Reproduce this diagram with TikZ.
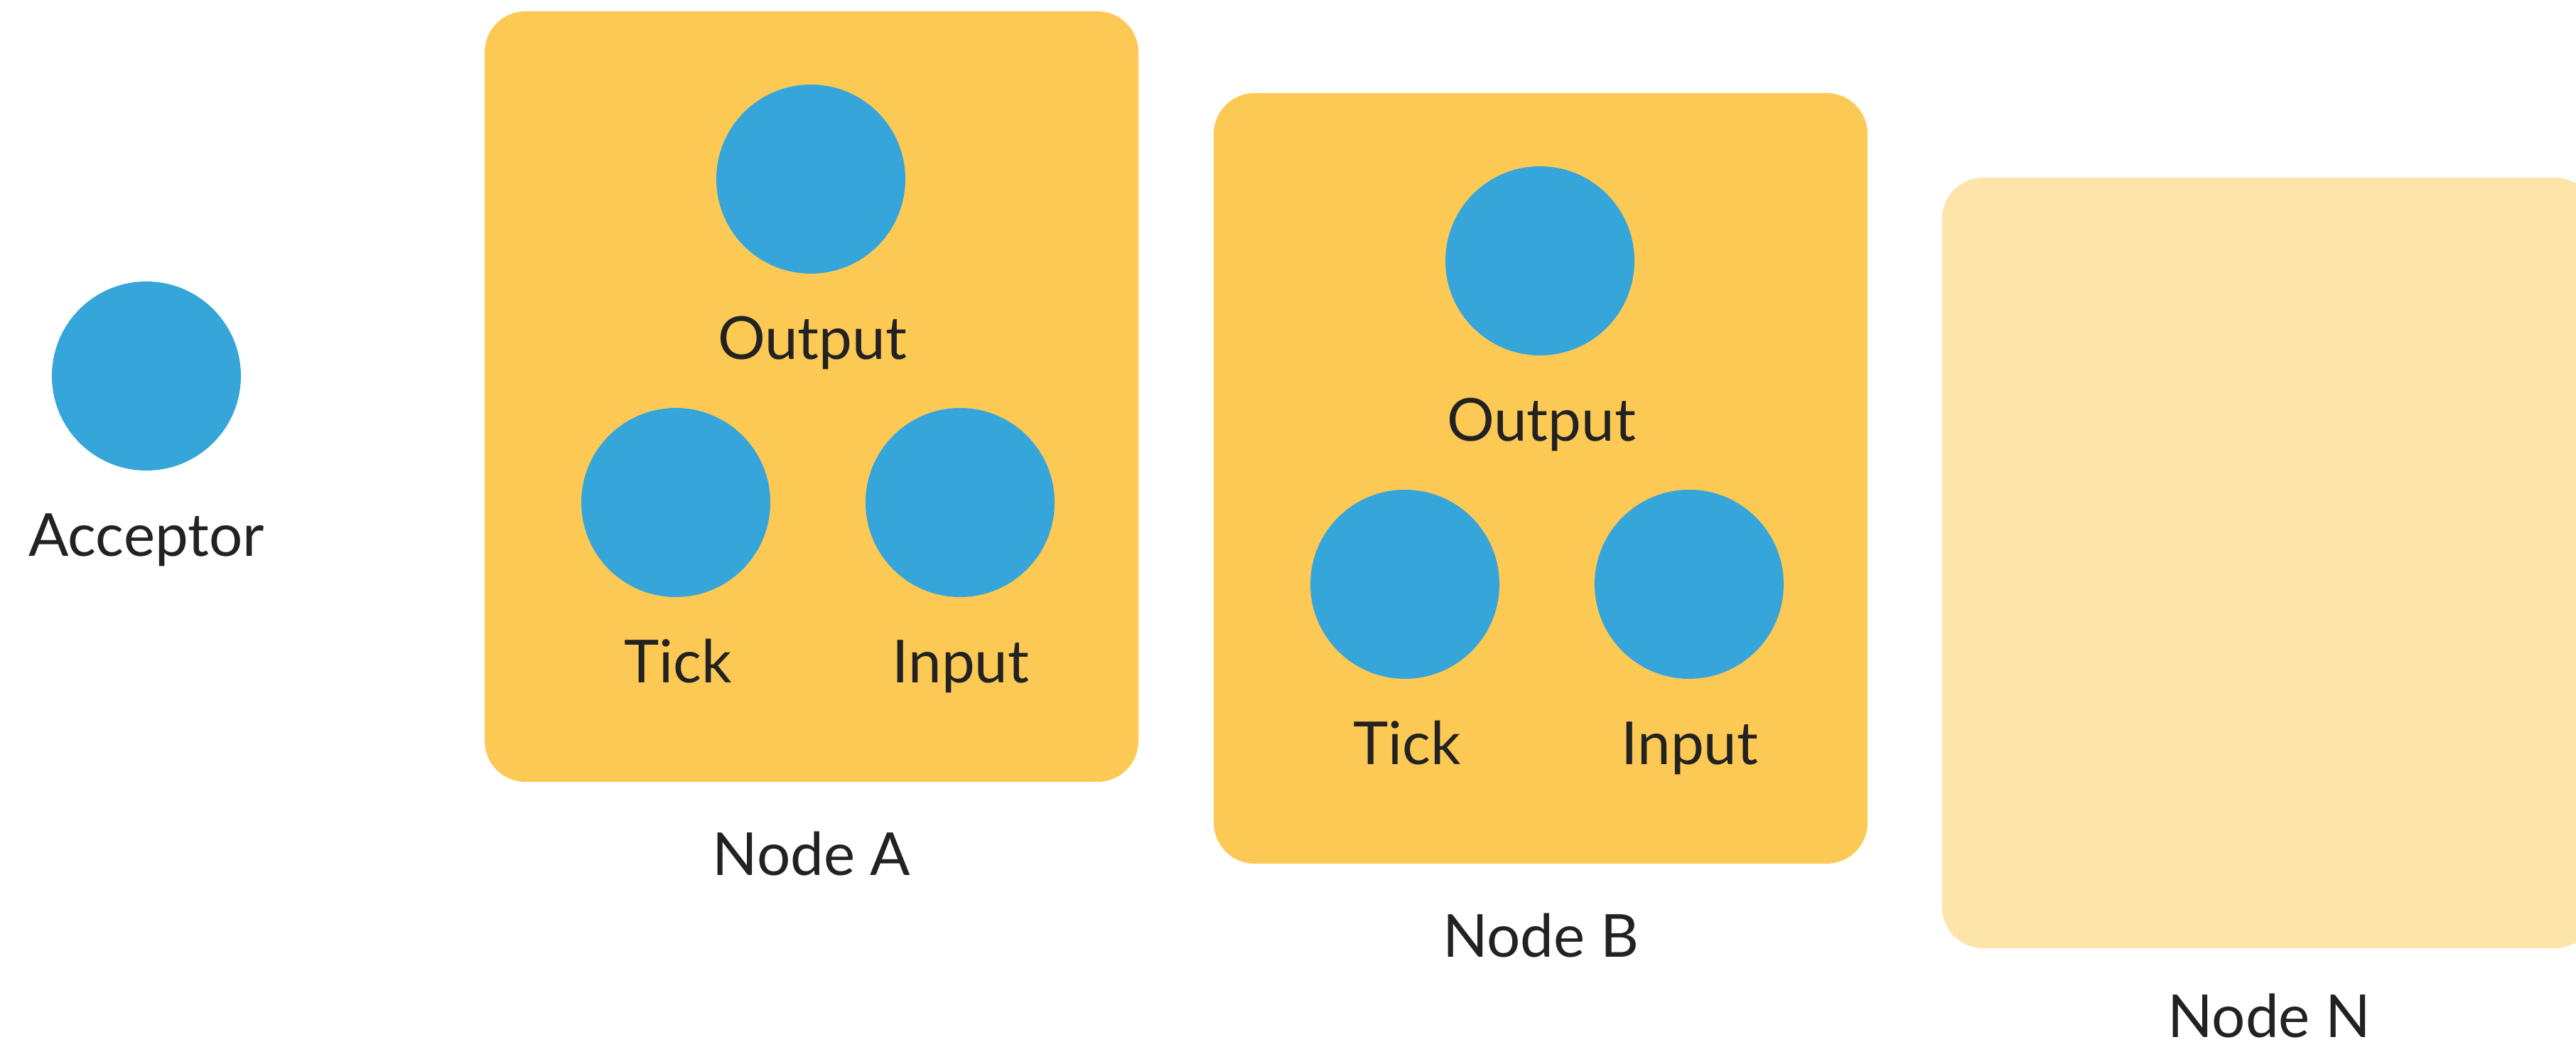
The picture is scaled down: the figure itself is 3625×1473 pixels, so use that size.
\documentclass[tikz,border=0pt]{standalone}
\usepackage{fontspec}
\setmainfont{Lato}
\definecolor{boxfill}{HTML}{FDC955}
\definecolor{boxfaint}{HTML}{FDE4A9}
\definecolor{dotfill}{HTML}{35A5DA}
\definecolor{inkdark}{HTML}{222222}
\tikzset{
  unitbox/.style={rectangle, rounded corners=11.5pt, fill=boxfill, draw=none,
    minimum width=184pt, minimum height=216.8pt, inner sep=0pt, outer sep=0pt},
  faintbox/.style={unitbox, fill=boxfaint},
  port/.style={circle, fill=dotfill, draw=none, minimum size=53.2pt,
    inner sep=0pt, outer sep=0pt},
  lbl/.style={anchor=base, inner sep=0pt, text=inkdark,
    font=\fontsize{16.7}{20}\selectfont},
}
\begin{document}
\begin{tikzpicture}[x=0.2pt, y=-0.2pt]
  \fill[white] (0,0) rectangle (3625,1473);
  \useasboundingbox (0,0) rectangle (3625,1473);

  % acceptor
  \node[port] (acc) at (206,529) {};
  \node[lbl] (accL) at (206,783) {Acceptor};

  % node A
  \node[unitbox] (boxA) at (1142,558) {};
  \node[port] (outA) at (1141,252) {};
  \node[port] (tickA) at (951,707) {};
  \node[port] (inA) at (1351,707) {};
  \node[lbl] (outAL) at (1143,506) {Output};
  \node[lbl] (tickAL) at (954,961) {Tick};
  \node[lbl] (inAL) at (1352,961) {Input};
  \node[lbl] (boxAL) at (1142,1232) {Node A};

  % node B
  \node[unitbox] (boxB) at (2168,673) {};
  \node[port] (outB) at (2167,367) {};
  \node[port] (tickB) at (1977,822) {};
  \node[port] (inB) at (2377,822) {};
  \node[lbl] (outBL) at (2169,621) {Output};
  \node[lbl] (tickBL) at (1980,1076) {Tick};
  \node[lbl] (inBL) at (2378,1076) {Input};
  \node[lbl] (boxBL) at (2168,1347) {Node B};

  % node N (faded, runs past the right edge)
  \node[faintbox] (boxN) at (3193,792) {};
  \node[lbl] (boxNL) at (3193,1460) {Node N};
\end{tikzpicture}
\end{document}
